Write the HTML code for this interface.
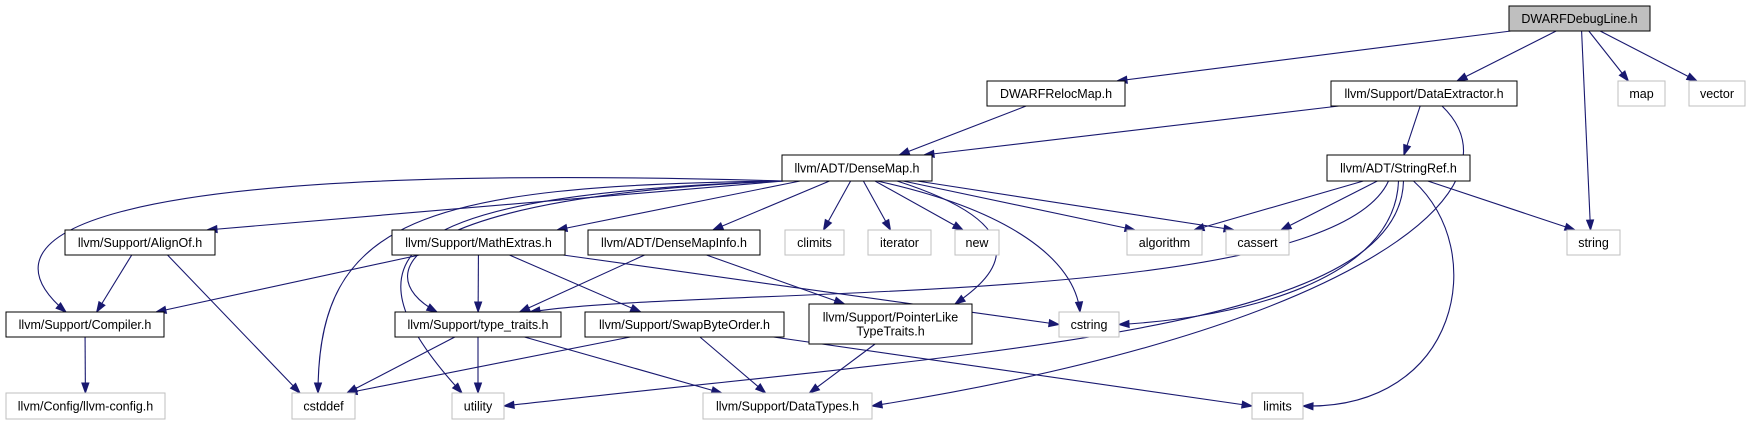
<!DOCTYPE html>
<html><head><meta charset="utf-8"><style>
html,body{margin:0;padding:0;background:#fff;width:1751px;height:425px;overflow:hidden}
svg text{font-family:"Liberation Sans",sans-serif;font-size:12.5px;fill:#000}
</style></head><body>
<svg id="g" width="1751" height="425" viewBox="0 0 1751 425" xmlns="http://www.w3.org/2000/svg"></svg>
<script>
// node labels, boxes [x0,y0,x1,y1], kind: 0 = root, 1 = documented, 2 = external
const nodeLabels = ["DWARFDebugLine.h","DWARFRelocMap.h","llvm/Support/DataExtractor.h","map","vector","llvm/ADT/DenseMap.h","llvm/ADT/StringRef.h","llvm/Support/AlignOf.h","llvm/Support/MathExtras.h","llvm/ADT/DenseMapInfo.h","climits","iterator","new","algorithm","cassert","string","llvm/Support/Compiler.h","llvm/Support/type_traits.h","llvm/Support/SwapByteOrder.h","llvm/Support/PointerLike|TypeTraits.h","cstring","llvm/Config/llvm-config.h","cstddef","utility","llvm/Support/DataTypes.h","limits"];
const nodeKinds = [0,1,1,2,2,1,1,1,1,1,2,2,2,2,2,2,1,1,1,1,2,2,2,2,2,2];
const nodeBoxes = [[1509,6,1650,31],[987,81,1125,106],[1331,81,1517,106],[1618,81,1665,106],[1689,81,1745,106],[782,155,932,181],[1327,155,1470,181],[65,230,215,255],[392,230,565,255],[588,230,760,255],[785,230,844,255],[868,230,931,255],[955,230,999,255],[1127,230,1202,255],[1226,230,1289,255],[1567,230,1620,255],[6,312,164,337],[395,312,561,337],[585,312,784,337],[809,304,972,344],[1059,312,1119,337],[6,393,165,419],[292,393,355,419],[452,393,504,419],[703,393,872,419],[1252,393,1303,419]];
// edges: source, target, target side, optional curve control points
const edgeFrom = [0,0,0,0,0,1,2,2,2,5,5,5,5,5,5,5,5,5,5,5,5,5,5,6,6,6,6,6,6,6,7,7,8,8,8,8,9,9,16,17,17,17,18,18,18,19];
const edgeTo   = [1,2,15,3,4,5,5,6,24,16,7,22,23,17,8,9,10,11,12,13,14,20,19,13,14,15,17,20,23,25,16,22,16,17,18,20,17,19,21,22,23,24,22,24,25,24];
const edgeSide = ["t","t","t","t","t","t","t","t","r","t","t","t","t","t","t","t","t","t","t","t","t","t","t","t","t","t","t","r","r","r","t","t","t","t","t","l","t","t","t","t","t","t","t","t","l","t"];
const edgeCurve = {8:[[1530,190],[1350,330]],9:[[60,160],[-20,240]],11:[[420,185],[318,220]],12:[[400,195],[330,250]],13:[[420,195],[360,270]],21:[[1010,210],[1075,260]],22:[[1050,230],[990,280]],26:[[1330,310],[700,285]],27:[[1395,280],[1240,318]],28:[[1400,330],[1000,350]],29:[[1490,250],[1460,410]]};
const edgeStartDx = {8:18,9:-75,11:-75,12:-75,13:-75,21:20,22:40,26:-10,27:0,28:5,29:15};
const edgeEndX = {9:66,11:318,12:462,13:437,21:1080,22:955,26:530};
const svg=document.getElementById('g');const NS="http://www.w3.org/2000/svg";const C="#191970";
function el(t,a){const e=document.createElementNS(NS,t);for(const k in a)e.setAttribute(k,a[k]);return e;}
const cx=b=>(b[0]+b[2])/2;
function endPoint(b,side,from){
  if(side==="r")return [b[2],(b[1]+b[3])/2];
  if(side==="l")return [b[0],(b[1]+b[3])/2];
  let x=cx(b)+(from[0]-cx(b))*0.25;x=Math.max(b[0]+8,Math.min(b[2]-8,x));return [x,b[1]];
}
edgeFrom.forEach((s,i)=>{
  const sb=nodeBoxes[s],tb=nodeBoxes[edgeTo[i]];
  let sx=cx(sb)+(cx(tb)-cx(sb))*0.15;
  if(edgeStartDx[i]!==undefined)sx=cx(sb)+edgeStartDx[i];
  sx=Math.max(sb[0]+2,Math.min(sb[2]-2,sx));
  const st=[sx,sb[3]];
  const en=endPoint(tb,edgeSide[i],st);
  if(edgeEndX[i]!==undefined)en[0]=edgeEndX[i];
  const cp=edgeCurve[i];
  let d,dir;
  if(cp){d=`M${st[0]},${st[1]} C${cp[0][0]},${cp[0][1]} ${cp[1][0]},${cp[1][1]} ${en[0]},${en[1]}`;dir=[en[0]-cp[1][0],en[1]-cp[1][1]];}
  else{d=`M${st[0]},${st[1]} L${en[0]},${en[1]}`;dir=[en[0]-st[0],en[1]-st[1]];}
  const L=Math.hypot(dir[0],dir[1])||1;const ux=dir[0]/L,uy=dir[1]/L;
  const p=el('path',{d:d,fill:'none',stroke:C,'stroke-width':1.1});
  
  
  svg.appendChild(p);
  const bx=en[0]-ux*10,by=en[1]-uy*10;
  const a=el('polygon',{points:`${en[0]},${en[1]} ${bx-uy*3.5},${by+ux*3.5} ${bx+uy*3.5},${by-ux*3.5}`,fill:C,stroke:C});
  
  
  svg.appendChild(a);
});
nodeLabels.forEach((lab,i)=>{
  const b=nodeBoxes[i],k=nodeKinds[i];
  const g=el('g',{});
  
  
  g.appendChild(el('rect',{x:b[0],y:b[1],width:b[2]-b[0],height:b[3]-b[1],fill:k===0?'#bfbfbf':'#fff',stroke:k===2?'#bfbfbf':'#000','stroke-width':1}));
  const lines=lab.split('|');const mid=(b[1]+b[3])/2;
  lines.forEach((ln,j)=>{
    const t=el('text',{x:cx(b),y:mid+4.5+(j-(lines.length-1)/2)*14,'text-anchor':'middle'});
    t.textContent=ln;g.appendChild(t);
  });
  svg.appendChild(g);
});
</script>
</body></html>
